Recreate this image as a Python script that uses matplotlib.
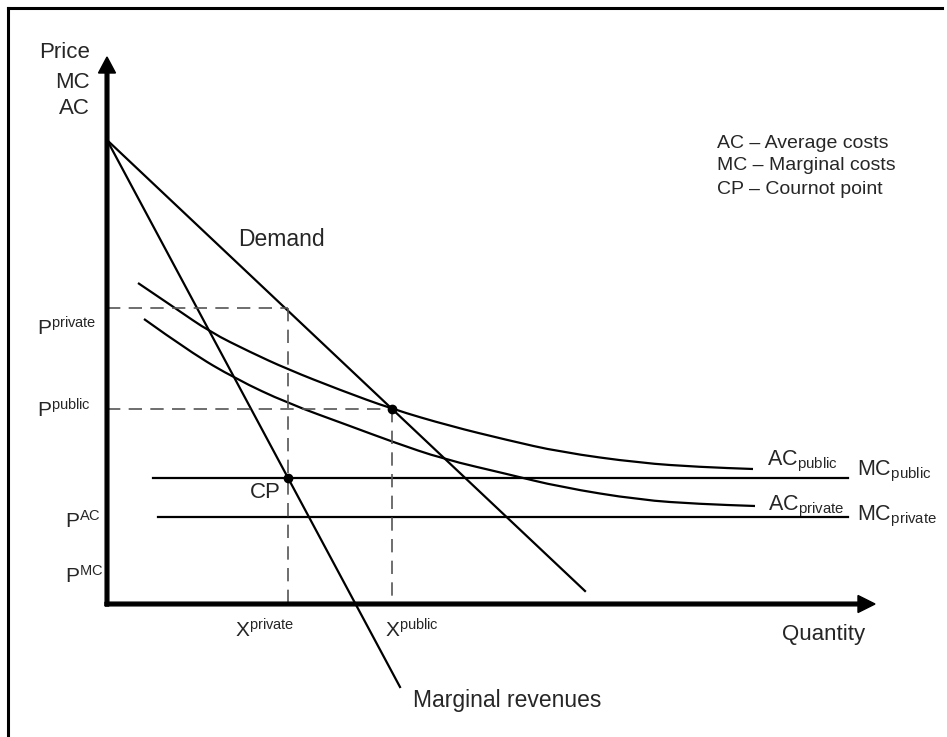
import matplotlib
matplotlib.use("Agg")
import matplotlib.pyplot as plt
from matplotlib.path import Path
from matplotlib.patches import PathPatch
from matplotlib.lines import Line2D
import numpy as np

plt.rcParams['font.family'] = ['Liberation Sans', 'DejaVu Sans']
plt.rcParams['mathtext.fontset'] = 'custom'
plt.rcParams['mathtext.rm'] = 'Liberation Sans'
plt.rcParams['mathtext.it'] = 'Liberation Sans'
plt.rcParams['mathtext.bf'] = 'Liberation Sans:bold'

# chart data (quantity, price) in arbitrary diagram units
demand_q = [0.0, 4.78]
demand_p = [4.64, 0.13]
mr_q = [0.0, 2.93]
mr_p = [4.64, -0.83]

ac_public_q = [0.31, 0.68, 1.03, 1.43, 1.80, 2.33, 2.85, 3.43, 4.00, 4.53, 5.33, 5.93, 6.46]
ac_public_p = [3.21, 2.96, 2.72, 2.52, 2.35, 2.14, 1.95, 1.78, 1.64, 1.52, 1.41, 1.37, 1.35]
ac_private_q = [0.37, 0.83, 1.29, 1.80, 2.43, 2.86, 3.36, 4.00, 4.53, 5.33, 5.93, 6.48]
ac_private_p = [2.85, 2.52, 2.25, 2.01, 1.78, 1.62, 1.45, 1.30, 1.17, 1.04, 1.00, 0.98]

mc_public_q = [0.46, 7.41]
mc_public_p = 1.26
mc_private_q = [0.51, 7.41]
mc_private_p = 0.87

p_private = 2.96
p_public = 1.95
x_private = 1.81
x_public = 2.85

TXT = '#262626'
FS = 16
FS_M = 15


def smooth_path(xs, ys):
    # quadratic bezier through midpoints of the read points
    pts = np.column_stack([xs, ys])
    verts = [pts[0]]
    codes = [Path.MOVETO]
    for i in range(1, len(pts) - 1):
        verts += [pts[i], (pts[i] + pts[i + 1]) / 2]
        codes += [Path.CURVE3, Path.CURVE3]
    verts.append(pts[-1])
    codes.append(Path.LINETO)
    return Path(verts, codes)


fig = plt.figure(figsize=(9.47, 7.37), dpi=100)
ax = fig.add_axes([0, 0, 1, 1])
ax.set_xlim(-1.07, 8.40)
ax.set_ylim(-1.33, 6.04)
ax.axis('off')

# outer frame (top and left edges)
fig.add_artist(Line2D([8 / 947, 942 / 947], [1 - 8 / 737, 1 - 8 / 737], color='black', lw=2.2))
fig.add_artist(Line2D([8 / 947, 8 / 947], [0, 1 - 8 / 737], color='black', lw=2.2))

# axes with arrows
ax.arrow(0, -0.02, 0, 5.49, width=0.037, head_width=0.17, head_length=0.16,
         length_includes_head=True, fc='black', ec='black', zorder=5)
ax.arrow(-0.02, 0, 7.70, 0, width=0.037, head_width=0.17, head_length=0.17,
         length_includes_head=True, fc='black', ec='black', zorder=5)

lw = 1.6
ax.plot(demand_q, demand_p, color='black', lw=lw)
ax.plot(mr_q, mr_p, color='black', lw=lw)
ax.add_patch(PathPatch(smooth_path(ac_public_q, ac_public_p), fc='none', ec='black', lw=lw))
ax.add_patch(PathPatch(smooth_path(ac_private_q, ac_private_p), fc='none', ec='black', lw=lw))
ax.plot(mc_public_q, [mc_public_p] * 2, color='black', lw=lw)
ax.plot(mc_private_q, [mc_private_p] * 2, color='black', lw=lw)

# dashed guides
dash = dict(color='#555555', lw=1.2, dashes=(8, 5))
ax.plot([0, x_private], [p_private, p_private], **dash)
ax.plot([x_private, x_private], [p_private, 0], **dash)
ax.plot([0, x_public], [p_public, p_public], **dash)
ax.plot([x_public, x_public], [p_public, 0], **dash)

# points
ax.plot([x_private], [mc_public_p], 'o', color='black', ms=6, zorder=6)
ax.plot([x_public], [p_public], 'o', color='black', ms=6, zorder=6)

# axis titles
for txt, y in [('Price', 5.51), ('MC', 5.22), ('AC', 4.96)]:
    ax.text(-0.17, y, txt, ha='right', va='center', fontsize=FS, color=TXT)
ax.text(6.75, -0.36, 'Quantity', ha='left', va='baseline', fontsize=FS, color=TXT)


def mt(s):
    return r'$\mathregular{' + s + '}$'


# tick-like labels
ax.text(-0.70, 2.69, mt('P^{private}'), ha='left', va='baseline', fontsize=FS_M, color=TXT)
ax.text(-0.70, 1.87, mt('P^{public}'), ha='left', va='baseline', fontsize=FS_M, color=TXT)
ax.text(-0.42, 0.76, mt('P^{AC}'), ha='left', va='baseline', fontsize=FS_M, color=TXT)
ax.text(-0.42, 0.21, mt('P^{MC}'), ha='left', va='baseline', fontsize=FS_M, color=TXT)
ax.text(1.28, -0.34, mt('X^{private}'), ha='left', va='baseline', fontsize=FS_M, color=TXT)
ax.text(2.78, -0.33, mt('X^{public}'), ha='left', va='baseline', fontsize=FS_M, color=TXT)

# curve labels
ax.text(1.31, 3.64, 'Demand', ha='left', va='center', fontsize=FS + 0.5, color=TXT)
ax.text(3.06, -0.96, 'Marginal revenues', ha='left', va='center', fontsize=FS + 0.5, color=TXT)
ax.text(1.58, 1.11, 'CP', ha='center', va='center', fontsize=FS, color=TXT)
ax.text(6.60, 1.39, mt('AC_{public}'), ha='left', va='baseline', fontsize=FS_M + 0.5, color=TXT)
ax.text(7.50, 1.29, mt('MC_{public}'), ha='left', va='baseline', fontsize=FS_M + 0.5, color=TXT)
ax.text(6.61, 0.94, mt('AC_{private}'), ha='left', va='baseline', fontsize=FS_M + 0.5, color=TXT)
ax.text(7.50, 0.84, mt('MC_{private}'), ha='left', va='baseline', fontsize=FS_M + 0.5, color=TXT)

# legend block
legend_lines = ['AC – Average costs', 'MC – Marginal costs', 'CP – Cournot point']
for i, s in enumerate(legend_lines):
    ax.text(6.10, 4.61 - i * 0.23, s, ha='left', va='center', fontsize=14, color=TXT)

fig.savefig('out.png', dpi=100)
